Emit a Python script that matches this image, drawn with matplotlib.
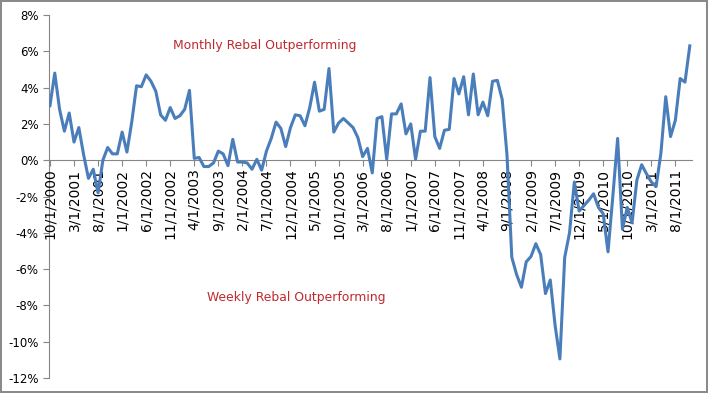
import matplotlib
matplotlib.use("Agg")
from matplotlib import pyplot as plt

# monthly spread, 10/1/2000 .. 11/1/2011 (in %)
spread = [
    3.0, 4.8, 2.8, 1.6, 2.6, 1.0, 1.8, 0.3, -1.0, -0.5,
    -1.8, 0.0, 0.7, 0.35, 0.35, 1.55, 0.45, 2.1, 4.1, 4.05,
    4.7, 4.35, 3.8, 2.5, 2.2, 2.9, 2.3, 2.45, 2.8, 3.85,
    0.1, 0.15, -0.35, -0.35, -0.15, 0.5, 0.35, -0.3, 1.15, -0.1,
    -0.1, -0.15, -0.5, 0.05, -0.55, 0.5, 1.2, 2.1, 1.75, 0.75,
    1.8, 2.5, 2.45, 1.9, 2.9, 4.3, 2.7, 2.8, 5.05, 1.55,
    2.05, 2.3, 2.05, 1.8, 1.25, 0.2, 0.65, -0.7, 2.3, 2.4,
    0.05, 2.55, 2.55, 3.1, 1.45, 2.0, 0.05, 1.6, 1.6, 4.55,
    1.3, 0.65, 1.65, 1.7, 4.5, 3.65, 4.6, 2.5, 4.75, 2.5,
    3.2, 2.45, 4.35, 4.4, 3.35, 0.3, -5.35, -6.3, -7.0, -5.6,
    -5.3, -4.6, -5.2, -7.35, -6.6, -9.1, -10.95, -5.35, -4.0, -1.2,
    -2.8, -2.5, -2.2, -1.85, -2.6, -2.95, -5.05, -2.0, 1.2, -3.8,
    -2.6, -3.45, -1.1, -0.25, -0.75, -1.2, -1.45, 0.4, 3.5, 1.3,
    2.2, 4.5, 4.3, 6.3,
]

# first month of the series is October 2000; a label every 5 months
start_year, start_month = 2000, 10
tick_step = 5
y_ticks = [-12, -10, -8, -6, -4, -2, 0, 2, 4, 6, 8]

x = list(range(len(spread)))
tick_pos = list(range(0, len(spread) - 1, tick_step))
tick_labels = []
for i in tick_pos:
    m = start_month - 1 + i
    tick_labels.append(f"{m % 12 + 1}/1/{start_year + m // 12}")

fig = plt.figure(figsize=(7.08, 3.93), dpi=100, edgecolor="#8a8a8a", linewidth=1.5)
ax = fig.add_axes([0.0692, 0.0382, 0.9078, 0.9236])

ax.plot(x, spread, color="#4A7EBB", linewidth=2.2, zorder=2)

ax.set_xlim(-0.2, 133.4)
ax.set_ylim(-12, 8)
ax.set_yticks(y_ticks)
ax.set_yticklabels([f"{v}%" for v in y_ticks], fontsize=8.5)

ax.set_xticks(tick_pos)
ax.set_xticklabels(tick_labels, fontsize=7.6)
ax.spines["bottom"].set_position(("data", 0))
for s in ("top", "right"):
    ax.spines[s].set_visible(False)
for s in ("left", "bottom"):
    ax.spines[s].set_color("#868686")
    ax.spines[s].set_zorder(1)
ax.tick_params(axis="both", colors="#868686", length=4, width=0.8, labelcolor="black")
ax.tick_params(axis="x", pad=2, labelrotation=90)
for lbl in ax.get_xticklabels():
    lbl.set_zorder(3)

fig.text(265 / 708, 1 - 45 / 393, "Monthly Rebal Outperforming", color="#C0282D",
         fontsize=8.9, ha="center", va="center")
fig.text(296 / 708, 1 - 297 / 393, "Weekly Rebal Outperforming", color="#C0282D",
         fontsize=8.9, ha="center", va="center")

fig.savefig("out.png", dpi=100)
